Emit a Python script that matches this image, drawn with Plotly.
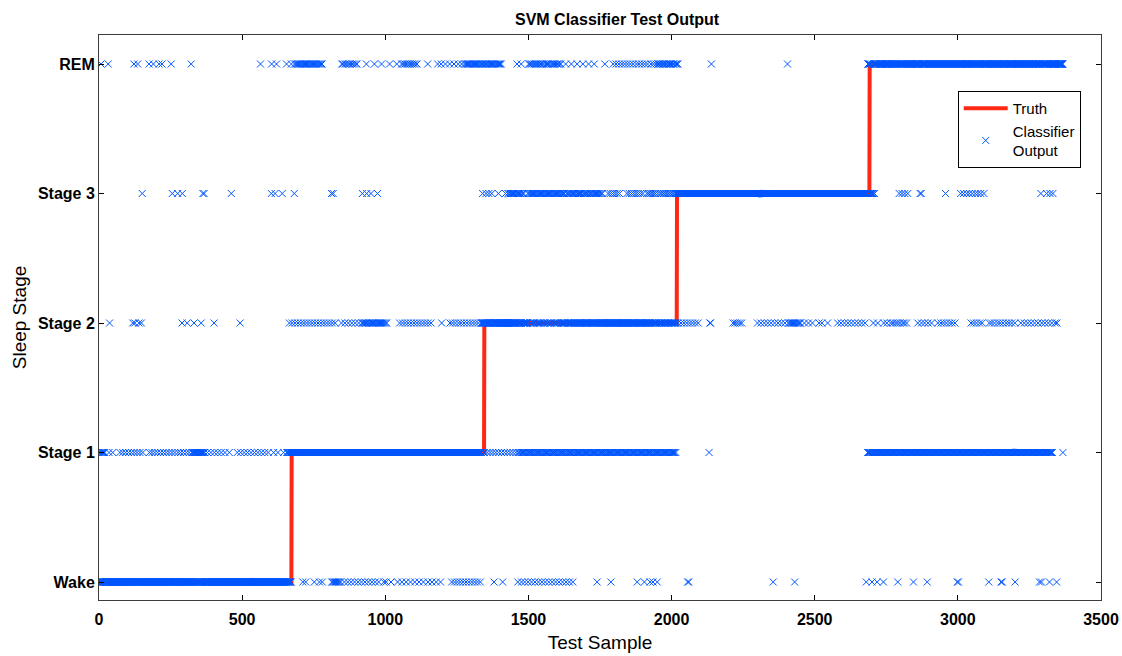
import plotly.graph_objects as go

# ---------------- data ----------------
stage_names = ["Wake", "Stage 1", "Stage 2", "Stage 3", "REM"]
stage_values = [0, 1, 2, 3, 4]
x_ticks = [0, 500, 1000, 1500, 2000, 2500, 3000, 3500]

# truth: index of first sample of each stage block, and total sample count
truth_starts = [0, 673, 1346, 2019, 2692]
n_samples = 3368

# classifier output, read per predicted stage:
# runs = (first sample, last sample, spacing of predictions in the run)
wake_runs = [(812, 845, 4), (857, 980, 12), (1043, 1197, 15), (1232, 1340, 10), (1463, 1662, 12)]
wake_points = [712, 722, 752, 770, 780, 995, 1003, 1020, 1380, 1410, 1740, 1788, 1880, 1905, 1925,
               1935, 1950, 2056, 2060, 2355, 2430, 2680, 2700, 2718, 2740, 2790, 2845, 2893, 2998,
               3002, 3108, 3151, 3155, 3200, 3285, 3292, 3320, 3345]

stage1_runs = [(0, 20, 4), (73, 157, 10), (175, 325, 10), (325, 367, 3), (367, 427, 12),
               (483, 602, 12), (655, 672, 3), (1346, 1463, 10), (1463, 1767, 4), (1767, 2018, 4),
               (2685, 3332, 3)]
stage1_points = [35, 48, 440, 455, 610, 625, 645, 2131, 3367]

stage2_runs = [(665, 833, 10), (847, 917, 12), (917, 1008, 4), (1050, 1165, 10), (1225, 1337, 10),
               (1337, 1345, 2), (2023, 2100, 10), (2300, 2400, 12), (2408, 2450, 4), (2450, 2492, 14),
               (2580, 2685, 12), (2765, 2828, 8), (2860, 2912, 12), (2930, 2993, 10),
               (3045, 3090, 10), (3108, 3202, 10), (3220, 3350, 12)]
stage2_points = [37, 118, 125, 140, 148, 290, 308, 332, 357, 402, 493, 1197, 2134, 2136,
                 2215, 2222, 2230, 2238, 2245, 2515, 2525, 2545, 2705, 2720, 2740, 2752, 3345]

stage3_runs = [(1428, 1487, 4), (1498, 1760, 4), (1778, 1820, 8), (1844, 1900, 8),
               (1914, 1950, 6), (1960, 2018, 6), (2692, 2702, 2), (3010, 3090, 10)]
stage3_points = [151, 256, 275, 290, 363, 367, 462, 602, 615, 640, 682, 812, 818, 920, 935, 950,
                 973, 1340, 1352, 1362, 1372, 1395, 1420, 2709, 2795, 2805, 2815, 2825, 2868,
                 2872, 2957, 3290, 3310, 3322, 3332]

rem_runs = [(683, 780, 4), (847, 903, 6), (1057, 1113, 6), (1277, 1407, 4), (1498, 1617, 5),
            (1796, 1950, 10), (1950, 2025, 4), (2685, 2691, 1)]
rem_points = [7, 32, 122, 135, 175, 190, 210, 220, 252, 322, 564, 602, 620, 655, 672, 934, 962,
              987, 1015, 1040, 1148, 1183, 1195, 1210, 1225, 1240, 1255, 1267, 1460, 1475, 1630,
              1650, 1670, 1690, 1710, 1730, 1767, 2139, 2405]

# ---------------- build series ----------------
samples = list(range(n_samples))
truth = []
for i in samples:
    s = 0
    for k, st in enumerate(truth_starts):
        if i >= st:
            s = stage_values[k]
    truth.append(s)

pred = list(truth)
taken = set()


def place(i, cls):
    # one prediction per sample: if a sample is already used, take the next free one
    j = i
    while j in taken and j < n_samples - 1:
        j += 1
    pred[j] = cls
    taken.add(j)


all_runs = [(0, wake_runs), (1, stage1_runs), (2, stage2_runs), (3, stage3_runs), (4, rem_runs)]
all_points = [(0, wake_points), (1, stage1_points), (2, stage2_points), (3, stage3_points), (4, rem_points)]
for cls, pts in all_points:
    for i in pts:
        if 0 <= i < n_samples:
            place(i, cls)
for cls, runs in all_runs:
    for a, b, step in runs:
        for i in range(a, min(b, n_samples - 1) + 1, step):
            place(i, cls)

# ---------------- figure ----------------
FONT = "Liberation Sans, Arial, sans-serif"
BLUE = "rgb(0,85,255)"
fig = go.Figure()
fig.add_trace(go.Scatter(
    x=samples, y=truth, mode="lines", name="Truth",
    line=dict(color="rgb(255,40,20)", width=4),
))
fig.add_trace(go.Scatter(
    x=samples, y=pred, mode="markers", name="Classifier<br>Output",
    marker=dict(symbol="x-thin", size=7, color=BLUE, line=dict(color=BLUE, width=1)),
))

fig.update_layout(
    width=1122, height=656,
    margin=dict(l=99, r=21, t=35, b=56, autoexpand=False),
    paper_bgcolor="white", plot_bgcolor="white",
    font=dict(family=FONT, size=14, color="black"),
    title=dict(text="<b>SVM Classifier Test Output</b>", x=0.55, xanchor="center",
               y=0.971, yanchor="middle", font=dict(size=16, family=FONT)),
    showlegend=True,
    legend=dict(x=0.857, y=0.901, xanchor="left", yanchor="top",
                bgcolor="white", bordercolor="black", borderwidth=1,
                font=dict(size=15, family=FONT), itemwidth=44,
                tracegroupgap=0),
)
fig.update_xaxes(
    range=[0, 3500], tickmode="array", tickvals=x_ticks,
    ticktext=["<b>%d</b>" % v for v in x_ticks], ticklabelstandoff=5,
    ticks="inside", ticklen=5, tickcolor="black", showline=True, linecolor="rgb(60,60,60)",
    linewidth=1, mirror="ticks", showgrid=False, zeroline=False, automargin=False,
    tickfont=dict(size=16, family=FONT),
    title=dict(text="Test Sample", font=dict(size=19, family=FONT), standoff=8),
)
fig.update_yaxes(
    range=[-0.139, 4.224], tickmode="array", tickvals=stage_values,
    ticktext=["<b>%s</b>" % s for s in stage_names],
    ticks="inside", ticklen=5, tickcolor="black", showline=True, linecolor="rgb(60,60,60)",
    linewidth=1, mirror="ticks", showgrid=False, zeroline=False, automargin=False,
    tickfont=dict(size=16, family=FONT),
    title=dict(text="Sleep Stage", font=dict(size=19, family=FONT), standoff=6),
)

fig.write_html("out.html")
